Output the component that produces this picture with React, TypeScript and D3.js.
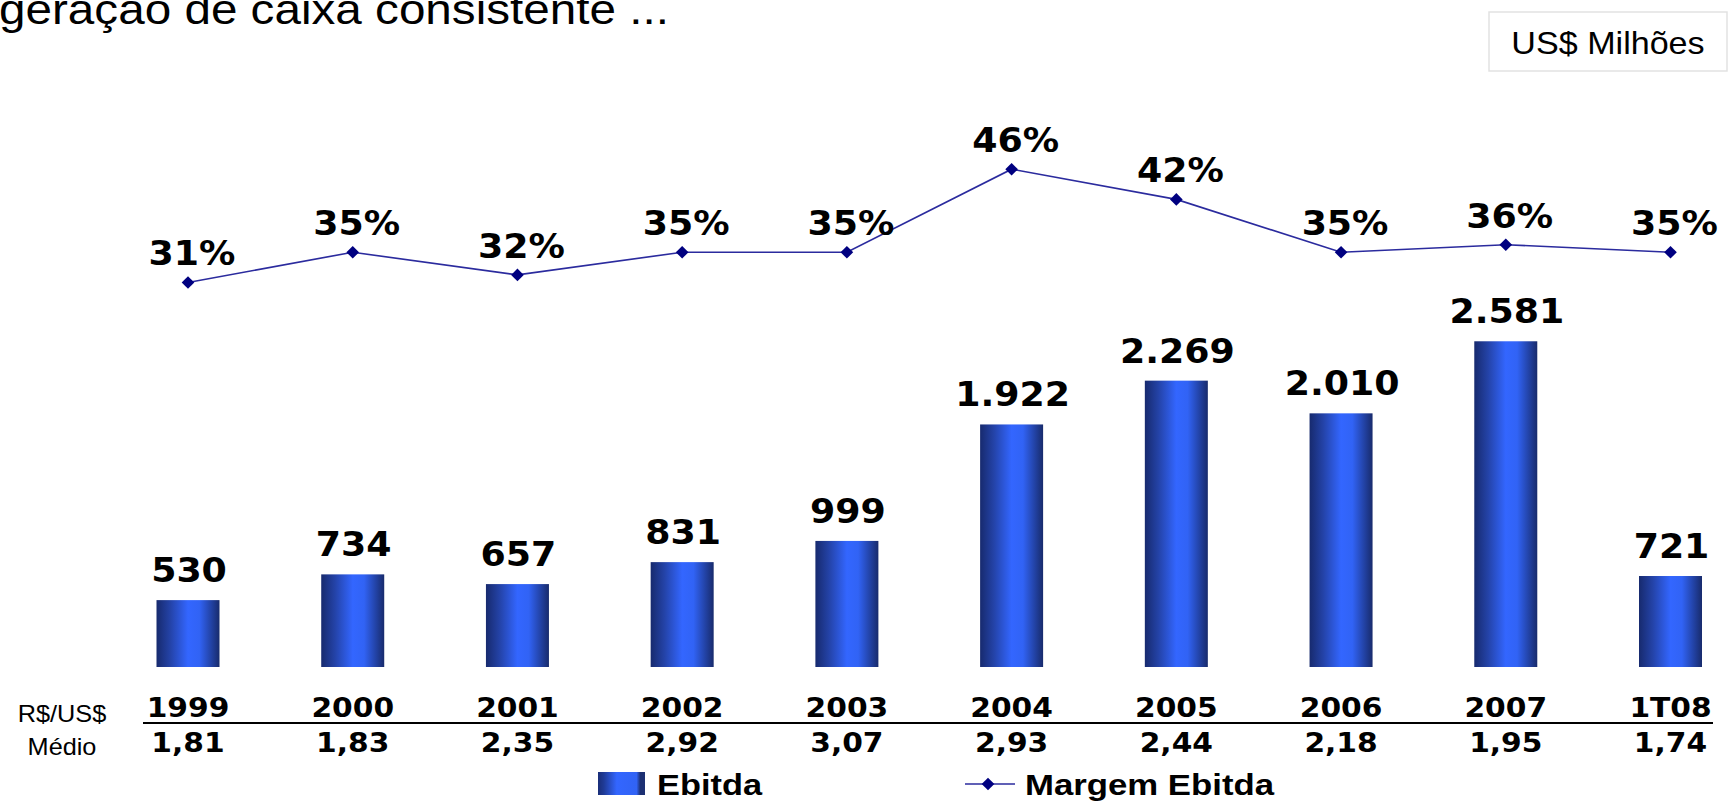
import React from "react";
import * as d3 from "d3";

const categories = ["1999", "2000", "2001", "2002", "2003", "2004", "2005", "2006", "2007", "1T08"];
const ebitda = [530, 734, 657, 831, 999, 1922, 2269, 2010, 2581, 721];
const margin = [31, 35, 32, 35, 35, 46, 42, 35, 36, 35];
const rates = ["1,81", "1,83", "2,35", "2,92", "3,07", "2,93", "2,44", "2,18", "1,95", "1,74"];
const titleText = "geração de caixa consistente ...";
const unitText = "US$ Milhões";
const legendBar = "Ebitda";
const legendLine = "Margem Ebitda";

const W = 1733;
const H = 803;
const SX = 1.1;

const ptBR = d3.formatLocale({ decimal: ",", thousands: ".", grouping: [3], currency: ["R$", ""] });
const fmtInt = ptBR.format(",d");

function ST({ x, y, anchor = "middle", size, family, weight = "normal", fill = "#000", children, length, sx = SX }: any) {
  return (
    <g transform={`translate(${x},${y}) scale(${sx},1)`}>
      <text
        textAnchor={anchor}
        fontSize={size}
        fontFamily={family}
        fontWeight={weight}
        fill={fill}
        {...(length ? { textLength: length / sx, lengthAdjust: "spacingAndGlyphs" } : {})}
      >
        {children}
      </text>
    </g>
  );
}

export default function App() {
  const x = d3.scalePoint<string>().domain(categories).range([188, 1670.5]);
  const yBar = d3.scaleLinear().domain([0, 3000]).range([667, 288.4]);
  const yLine = d3.scaleLinear().domain([0, 50]).range([516.5, 139]);
  const barW = 63;

  const pts: [number, number][] = categories.map((c, i) => [x(c)!, yLine(margin[i])]);
  const linePath = d3.line()(pts) || "";
  const marker = d3.symbol().type(d3.symbolSquare).size(80)() || "";

  const dv = "'DejaVu Sans', Verdana, sans-serif";
  const ar = "'Liberation Sans', Arial, sans-serif";

  return (
    <svg
      width={W}
      height={H}
      viewBox={`0 0 ${W} ${H}`}
      style={{ position: "absolute", left: 0, top: 0, background: "#fff" }}
    >
      <defs>
        <linearGradient id="barGrad" x1="0" x2="1" y1="0" y2="0">
          <stop offset="0" stopColor="#172a6e" />
          <stop offset="0.22" stopColor="#2443a8" />
          <stop offset="0.5" stopColor="#3366ff" />
          <stop offset="0.68" stopColor="#3163f5" />
          <stop offset="1" stopColor="#182b6c" />
        </linearGradient>
        <linearGradient id="legGrad" x1="0" x2="1" y1="0" y2="0">
          <stop offset="0" stopColor="#1a2e78" />
          <stop offset="0.12" stopColor="#1f3a95" />
          <stop offset="0.4" stopColor="#3366ff" />
          <stop offset="0.82" stopColor="#3163f5" />
          <stop offset="0.9" stopColor="#1c2f72" />
          <stop offset="1" stopColor="#1c2f72" />
        </linearGradient>
      </defs>

      {/* title */}
      <ST x={-1} y={24} anchor="start" size={43} family={ar} length={670} sx={1}>
        {titleText}
      </ST>

      {/* unit box */}
      <rect x={1489} y={12} width={238} height={59} fill="#fff" stroke="#e2e2e2" strokeWidth={1.5} />
      <ST x={1608} y={54} size={31} family={ar}>
        {unitText}
      </ST>

      {/* bars */}
      {categories.map((c, i) => (
        <rect
          key={"b" + c}
          x={x(c)! - barW / 2}
          y={yBar(ebitda[i])}
          width={barW}
          height={yBar(0) - yBar(ebitda[i])}
          fill="url(#barGrad)"
        />
      ))}
      {categories.map((c, i) => (
        <ST key={"bl" + c} x={x(c)! + 1} y={yBar(ebitda[i]) - 18} size={33} family={dv} weight="bold">
          {fmtInt(ebitda[i])}
        </ST>
      ))}

      {/* margin line */}
      <path d={linePath} fill="none" stroke="#2b2b9e" strokeWidth={1.6} />
      {pts.map((p, i) => (
        <path key={"m" + i} d={marker} transform={`translate(${p[0]},${p[1]}) rotate(45)`} fill="#000080" />
      ))}
      {categories.map((c, i) => (
        <ST key={"ml" + c} x={x(c)! + 4} y={yLine(margin[i]) - 17} size={33} family={dv} weight="bold">
          {margin[i] + "%"}
        </ST>
      ))}

      {/* table */}
      <line x1={143} x2={1713} y1={723} y2={723} stroke="#000" strokeWidth={2} />
      {categories.map((c) => (
        <ST key={"y" + c} x={x(c)!} y={716.5} size={27} family={dv} weight="bold">
          {c}
        </ST>
      ))}
      {categories.map((c, i) => (
        <ST key={"r" + c} x={x(c)!} y={751.5} size={27} family={dv} weight="bold">
          {rates[i]}
        </ST>
      ))}
      <ST x={62} y={721.5} size={23} family={ar}>
        R$/US$
      </ST>
      <ST x={62} y={755} size={23} family={ar}>
        Médio
      </ST>

      {/* legend */}
      <rect x={598} y={772} width={47} height={23} fill="url(#legGrad)" />
      <ST x={657} y={795} anchor="start" size={30} family={ar} weight="bold" length={105}>
        {legendBar}
      </ST>
      <line x1={965} x2={1015} y1={784} y2={784} stroke="#2b2b9e" strokeWidth={1.6} />
      <path d={marker} transform="translate(988,784) rotate(45)" fill="#000080" />
      <ST x={1025} y={795} anchor="start" size={30} family={ar} weight="bold" length={249}>
        {legendLine}
      </ST>
    </svg>
  );
}
